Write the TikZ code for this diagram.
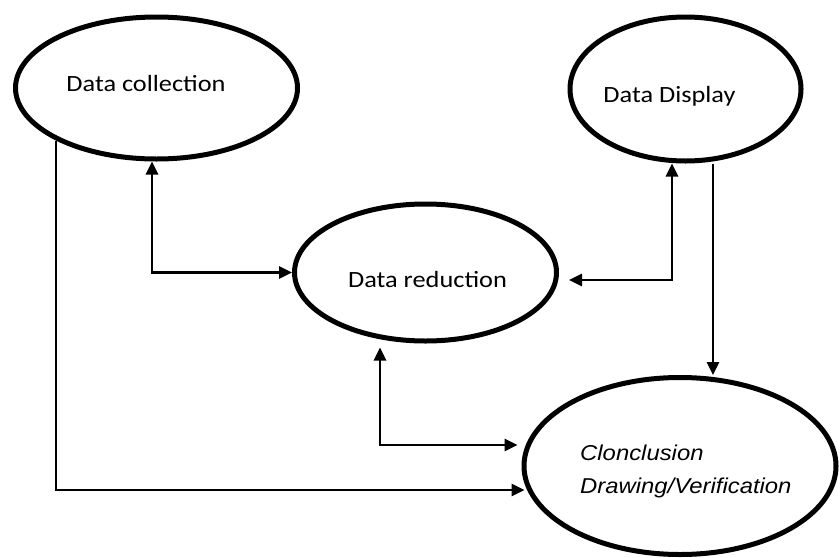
\documentclass[tikz,border=0pt]{standalone}
\usepackage{fontspec}
\usetikzlibrary{shapes.geometric,arrows.meta,calc}
\newfontfamily\calfont[FakeStretch=1.13]{Carlito}
\newfontfamily\arialit[FakeStretch=1.11]{Liberation Sans Italic}
\begin{document}
\begin{tikzpicture}[x=1pt,y=-1pt,
  oval/.style={ellipse,draw=black,line width=5pt,inner sep=0pt},
  lbl/.style={inner sep=0pt,font=\calfont\fontsize{23.3}{28}\selectfont,anchor=base},
  itl/.style={inner sep=0pt,font=\arialit\fontsize{21.5}{26}\selectfont,anchor=base west},
  conn/.style={line width=2.6pt,arrows={Triangle[length=13pt,width=12pt]-Triangle[length=13pt,width=12pt]}},
  oneway/.style={line width=2.6pt,-{Triangle[length=13pt,width=12pt]}}]
\useasboundingbox[fill=white] (0,0) rectangle (840,557);
% ellipses
\node[oval,minimum width=282pt,minimum height=142pt] (dc) at (156.5,88) {};
\node[oval,minimum width=231pt,minimum height=144pt] (dd) at (685.5,89) {};
\node[oval,minimum width=262pt,minimum height=137pt] (dr) at (425.5,272.5) {};
\node[oval,minimum width=312pt,minimum height=177pt] (cd) at (680,466) {};
% texts
\node[lbl] (dct) at (146,91) {Data collection};
\node[lbl] (ddt) at (669.5,102) {Data Display};
\node[lbl] (drt) at (427.5,287) {Data reduction};
\node[itl] (cdt1) at (580,460) {Clonclusion};
\node[itl] (cdt2) at (580,493) {Drawing/Verification};
% connectors
\coordinate (drin) at (569,280);
\draw[conn] ([xshift=-4.5pt]dc.south) |- (dr.west);
\draw[conn] ([xshift=-13.5pt]dd.south) |- (drin);
\draw[oneway] ([xshift=27.5pt]dd.south) -- ([xshift=33pt]cd.north);
\draw[conn] ([xshift=-45.5pt,yshift=-4pt]dr.south) |- ([xshift=-4pt,yshift=21pt]cd.west);
\draw[oneway] ([xshift=-100.5pt,yshift=21pt]dc.south) |- ([xshift=3pt,yshift=-24pt]cd.west);
\end{tikzpicture}
\end{document}
